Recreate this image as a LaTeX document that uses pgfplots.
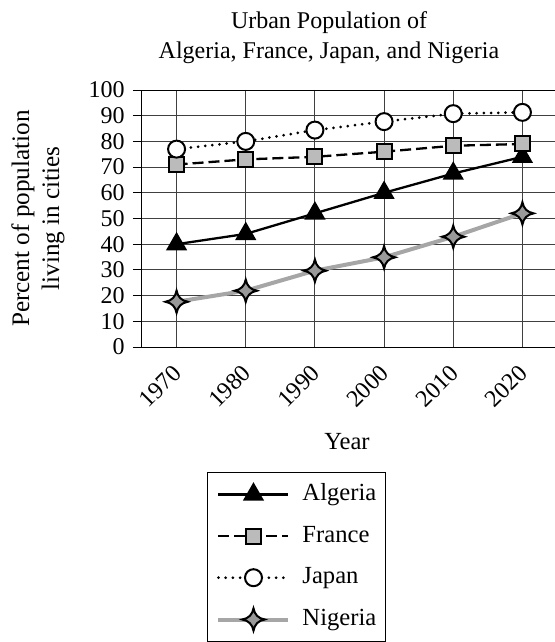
\documentclass[border=0pt]{standalone}
\usepackage{fontspec}
\setmainfont{Liberation Serif}
\usepackage{pgfplots}
\pgfplotsset{compat=1.18}
\definecolor{nigline}{HTML}{A6A6A6}
\definecolor{starfill}{HTML}{999999}
\definecolor{sqfill}{HTML}{BBBBBB}

% four-pointed concave star
\pgfdeclareplotmark{star4}{%
  \pgfpathmoveto{\pgfpoint{0pt}{\pgfplotmarksize}}%
  \pgfpathquadraticcurveto{\pgfpoint{0.15\pgfplotmarksize}{0.15\pgfplotmarksize}}{\pgfpoint{\pgfplotmarksize}{0pt}}%
  \pgfpathquadraticcurveto{\pgfpoint{0.15\pgfplotmarksize}{-0.15\pgfplotmarksize}}{\pgfpoint{0pt}{-\pgfplotmarksize}}%
  \pgfpathquadraticcurveto{\pgfpoint{-0.15\pgfplotmarksize}{-0.15\pgfplotmarksize}}{\pgfpoint{-\pgfplotmarksize}{0pt}}%
  \pgfpathquadraticcurveto{\pgfpoint{-0.15\pgfplotmarksize}{0.15\pgfplotmarksize}}{\pgfpoint{0pt}{\pgfplotmarksize}}%
  \pgfpathclose
  \pgfusepathqfillstroke
}

\begin{document}
\begin{tikzpicture}
\begin{axis}[
  scale only axis,
  width=207.5pt, height=128.5pt,
  xmin=1965, xmax=2025, ymin=0, ymax=100,
  xtick={1970,1980,...,2020},
  ytick={0,10,...,100},
  grid=major,
  grid style={line width=0.5pt, draw=black!75},
  axis line style={line width=0.5pt},
  tick align=outside,
  major tick length=4.5pt,
  xtick style={draw=none},
  ytick style={line width=0.5pt, black},
  /pgf/number format/1000 sep={},
  /pgf/number format/assume math mode=true,
  tick label style={font=\fontsize{12}{14}\selectfont},
  xticklabel style={xshift=0.5pt, yshift=-6.4pt, rotate=45, anchor=east, inner sep=0pt},
  yticklabel style={anchor=east, inner sep=0pt, xshift=-4pt},
  title={Urban Population of\\Algeria, France, Japan, and Nigeria},
  title style={at={(axis description cs:0.4506,1)}, anchor=south, align=center,
    inner sep=0pt, yshift=7pt, font=\fontsize{12}{15}\selectfont},
  xlabel={Year},
  xlabel style={at={(axis description cs:0.494,-0.3696)}, anchor=center,
    font=\fontsize{12.3}{14}\selectfont},
  ylabel={Percent of population\\living in cities},
  ylabel style={at={(axis description cs:-0.2506,0.5)}, anchor=center, align=center,
    font=\fontsize{12.6}{15}\selectfont},
  legend cell align=left,
  legend style={at={(axis description cs:0.1566,-0.4864)}, anchor=north west,
    draw=black, line width=0.5pt, inner xsep=4.5pt, inner ysep=5.5pt,
    row sep=9.8pt, column sep=6pt,
    font=\fontsize{12.3}{14}\selectfont,
    nodes={inner sep=0pt, text height=8.5pt, text depth=2.5pt}},
  legend image code/.code={%
    \draw[mark repeat=2, mark phase=2] plot coordinates {(0pt,0pt) (17.5pt,0pt) (35pt,0pt)};},
  clip=false,
]
\addplot[black, line width=1.15pt, mark=triangle*, mark size=5pt,
  mark options={solid, fill=black}] coordinates {
(1970,40) (1980,44) (1990,52) (2000,60) (2010,67.5) (2020,74) };
\addlegendentry{Algeria}
\addplot[black, line width=1.15pt, dash pattern=on 5.5pt off 2.5pt, mark=square*, mark size=3.75pt,
  mark options={solid, fill=sqfill, line width=1pt}] coordinates {
(1970,71) (1980,73) (1990,74) (2000,76) (2010,78.3) (2020,79) };
\addlegendentry{France}
\addplot[black, line width=1.5pt, line cap=round, dash pattern=on 0pt off 3.6pt, mark=*, mark size=4.25pt,
  mark options={solid, fill=white, line width=1pt}] coordinates {
(1970,77) (1980,80) (1990,84.4) (2000,87.7) (2010,90.8) (2020,91.3) };
\addlegendentry{Japan}
\addplot[nigline, line width=2pt, mark=star4, mark size=5.6pt,
  mark options={solid, fill=starfill, draw=black, line width=1pt}] coordinates {
(1970,17.6) (1980,21.9) (1990,29.7) (2000,34.9) (2010,42.9) (2020,52) };
\addlegendentry{Nigeria}
\end{axis}
\pgfresetboundingbox
\path[use as bounding box] (-71pt,-147.5pt) rectangle (206.5pt,173.5pt);
\end{tikzpicture}
\end{document}
